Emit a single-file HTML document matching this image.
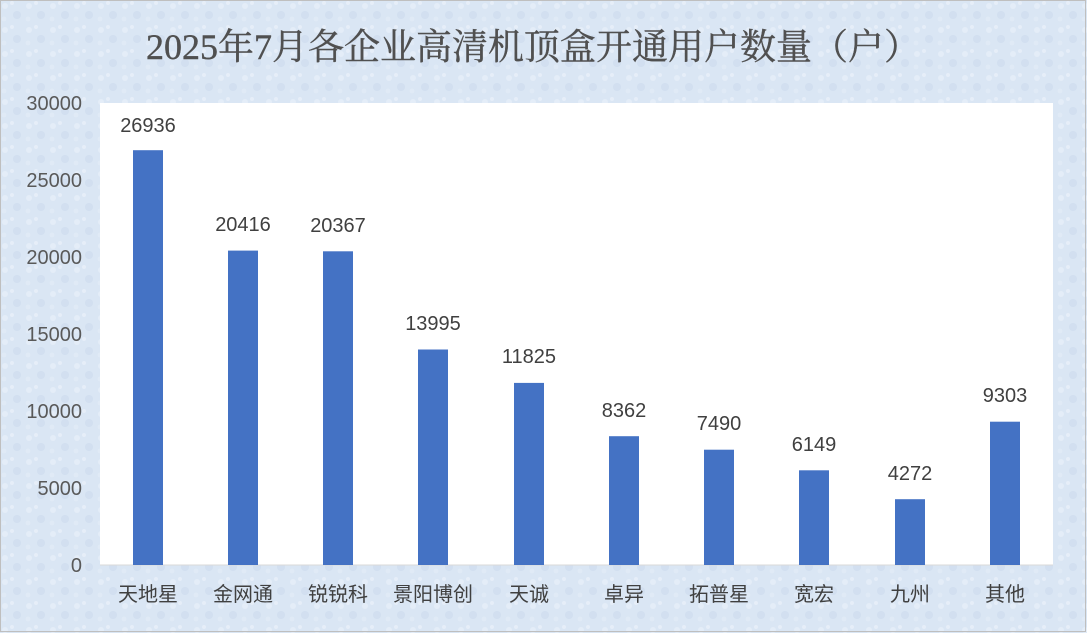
<!DOCTYPE html>
<html><head><meta charset="utf-8"><style>
body{margin:0;width:1087px;height:633px;overflow:hidden;}
</style></head><body>
<svg width="1087" height="633" xmlns="http://www.w3.org/2000/svg">
<defs>
<pattern id="tx" width="24" height="24" patternUnits="userSpaceOnUse">
<rect width="24" height="24" fill="#dae6f4"/>
<circle cx="5" cy="6" r="3" fill="#e4edf8"/>
<circle cx="17" cy="15" r="4" fill="#d2dff0"/>
<circle cx="12" cy="3" r="2" fill="#e6eef8"/>
<circle cx="4" cy="19" r="2.5" fill="#e0eaf6"/>
</pattern>
</defs>
<rect x="0" y="0" width="1087" height="633" fill="url(#tx)"/>
<rect x="0.5" y="0.5" width="1085" height="631" fill="none" stroke="#bfbfbf"/>
<text x="533" y="59" text-anchor="middle" font-family="'Liberation Serif','Noto Serif CJK SC',serif" font-size="36" fill="#505050" stroke="#505050" stroke-width="0.4">2025年7月各企业高清机顶盒开通用户数量（户）</text>
<rect x="100" y="103" width="953" height="462" fill="#fff"/>
<g font-family="'Liberation Sans',sans-serif" font-size="20" fill="#595959" text-anchor="end">
<text x="82" y="572">0</text>
<text x="82" y="495">5000</text>
<text x="82" y="418">10000</text>
<text x="82" y="341">15000</text>
<text x="82" y="264">20000</text>
<text x="82" y="187">25000</text>
<text x="82" y="110">30000</text>
</g>
<line x1="100" y1="565" x2="1053" y2="565" stroke="#d9d9d9"/>
<g fill="#4472c4">
<rect x="133" y="150.2" width="30" height="414.8"/>
<rect x="228" y="250.6" width="30" height="314.4"/>
<rect x="323" y="251.3" width="30" height="313.7"/>
<rect x="418" y="349.5" width="30" height="215.5"/>
<rect x="514" y="382.9" width="30" height="182.1"/>
<rect x="609" y="436.2" width="30" height="128.8"/>
<rect x="704" y="449.7" width="30" height="115.3"/>
<rect x="799" y="470.3" width="30" height="94.7"/>
<rect x="895" y="499.2" width="30" height="65.8"/>
<rect x="990" y="421.7" width="30" height="143.3"/>
</g>
<g font-family="'Liberation Sans',sans-serif" font-size="20" fill="#404040" text-anchor="middle">
<text x="148" y="132">26936</text>
<text x="243" y="231">20416</text>
<text x="338" y="232">20367</text>
<text x="433" y="330">13995</text>
<text x="529" y="363">11825</text>
<text x="624" y="417">8362</text>
<text x="719" y="430">7490</text>
<text x="814" y="451">6149</text>
<text x="910" y="480">4272</text>
<text x="1005" y="402">9303</text>
</g>
<g font-family="'Liberation Sans','Noto Sans CJK SC',sans-serif" font-size="20" fill="#404040" text-anchor="middle">
<text x="148" y="601">天地星</text>
<text x="243" y="601">金网通</text>
<text x="338" y="601">锐锐科</text>
<text x="433" y="601">景阳博创</text>
<text x="529" y="601">天诚</text>
<text x="624" y="601">卓异</text>
<text x="719" y="601">拓普星</text>
<text x="814" y="601">宽宏</text>
<text x="910" y="601">九州</text>
<text x="1005" y="601">其他</text>
</g>
</svg>
</body></html>
